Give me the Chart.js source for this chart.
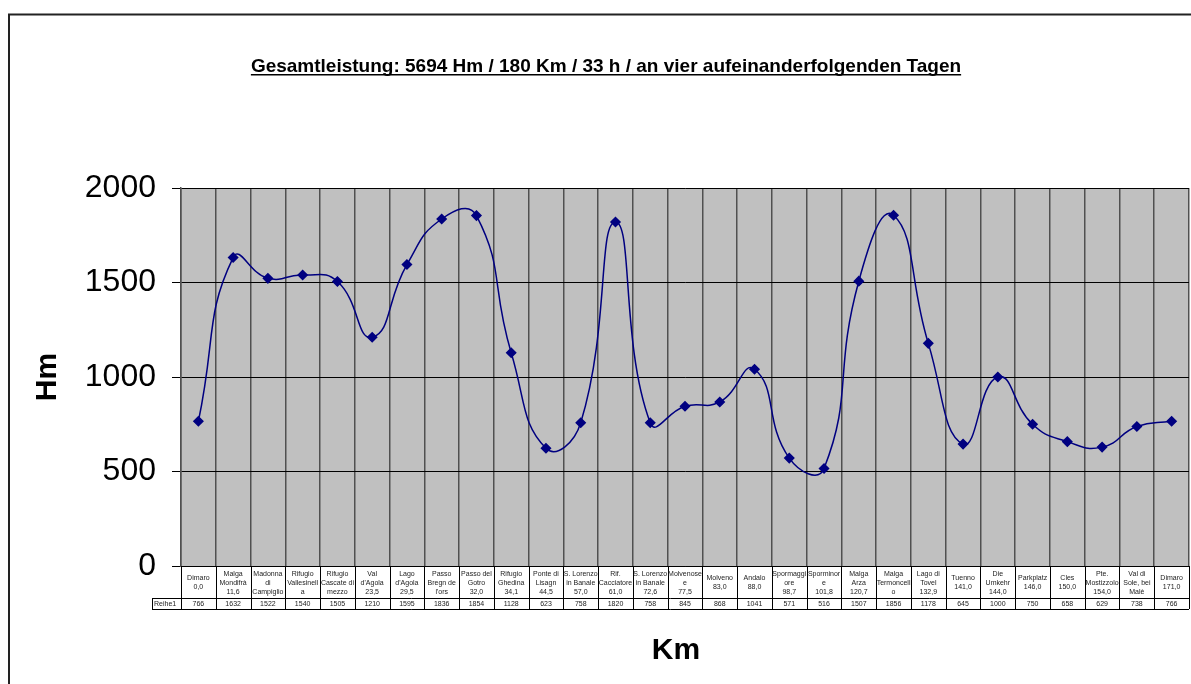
<!DOCTYPE html>
<html>
<head>
<meta charset="utf-8">
<script src="https://cdn.jsdelivr.net/npm/chart.js@4/dist/chart.umd.min.js"></script>
<style>
  html, body { margin: 0; padding: 0; background: #fff; }
  #wrap { width: 1191px; height: 684px; position: relative; }
</style>
</head>
<body>
<div id="wrap"><canvas id="chart" width="1191" height="684"></canvas></div>
<script>
// Etappen (Ort + Km), wie in der Datentabelle umgebrochen
const stations = [
    ['Dimaro', '0,0'],
    ['Malga', 'Mondifrà', '11,6'],
    ['Madonna', 'di', 'Campiglio'],
    ['Rifugio', 'Vallesinell', 'a'],
    ['Rifugio', 'Cascate di', 'mezzo'],
    ['Val', "d'Agola", '23,5'],
    ['Lago', "d'Agola", '29,5'],
    ['Passo', 'Bregn de', "l'ors"],
    ['Passo del', 'Gotro', '32,0'],
    ['Rifugio', 'Ghedina', '34,1'],
    ['Ponte di', 'Lisagn', '44,5'],
    ['S. Lorenzo', 'in Banale', '57,0'],
    ['Rif.', 'Cacciatore', '61,0'],
    ['S. Lorenzo', 'in Banale', '72,6'],
    ['Molvenose', 'e', '77,5'],
    ['Molveno', '83,0'],
    ['Andalo', '88,0'],
    ['Spormaggi', 'ore', '98,7'],
    ['Sporminor', 'e', '101,8'],
    ['Malga', 'Arza', '120,7'],
    ['Malga', 'Termoncell', 'o'],
    ['Lago di', 'Tovel', '132,9'],
    ['Tuenno', '141,0'],
    ['Die', 'Umkehr', '144,0'],
    ['Parkplatz', '146,0'],
    ['Cles', '150,0'],
    ['Pte.', 'Mostizzolo', '154,0'],
    ['Val di', 'Sole, bei', 'Malè'],
    ['Dimaro', '171,0']
];

// Höhe in Hm
const heights = [766, 1632, 1522, 1540, 1505, 1210, 1595, 1836, 1854, 1128, 623, 758, 1820, 758, 845,
                 868, 1041, 571, 516, 1507, 1856, 1178, 645, 1000, 750, 658, 629, 738, 766];

const seriesName = 'Reihe1';
const yTicks = [0, 500, 1000, 1500, 2000];

const titleText = 'Gesamtleistung: 5694 Hm / 180 Km / 33 h / an vier aufeinanderfolgenden Tagen';
const yTitle = 'Hm';
const xTitle = 'Km';

const FONT = '"Liberation Sans", Arial, sans-serif';
const NAVY = '#000080';

// grauer Hintergrund, Rahmen, Titel und Datentabelle
const excelLook = {
    id: 'excelLook',
    beforeDraw(chart) {
        const { ctx, chartArea: a } = chart;
        ctx.save();
        ctx.fillStyle = '#c0c0c0';
        ctx.fillRect(a.left, a.top, a.right - a.left, a.bottom - a.top);
        ctx.restore();
    },
    afterDraw(chart) {
        const { ctx, chartArea: a } = chart;
        const xs = chart.scales.x;
        ctx.save();

        // äußerer Rahmen
        ctx.strokeStyle = '#222';
        ctx.lineWidth = 2;
        ctx.beginPath();
        ctx.moveTo(9, 684);
        ctx.lineTo(9, 14.5);
        ctx.lineTo(1191, 14.5);
        ctx.stroke();

        // Titel, unterstrichen
        ctx.fillStyle = '#000';
        ctx.font = 'bold 19px ' + FONT;
        ctx.textAlign = 'center';
        ctx.textBaseline = 'alphabetic';
        const tx = 606, ty = 72;
        ctx.fillText(titleText, tx, ty);
        const tw = ctx.measureText(titleText).width;
        ctx.fillRect(tx - tw / 2, ty + 2, tw, 1.5);

        // Achsentitel
        ctx.font = 'bold 30px ' + FONT;
        ctx.textBaseline = 'middle';
        ctx.fillText(xTitle, 676, 651);
        ctx.save();
        ctx.translate(48, 377);
        ctx.rotate(-Math.PI / 2);
        ctx.fillText(yTitle, 0, 0);
        ctx.restore();

        // Datentabelle
        const half = (xs.getPixelForValue(1) - xs.getPixelForValue(0)) / 2;
        const rowTop = a.bottom, rowMid = a.bottom + 32, rowBot = a.bottom + 43;
        const headLeft = 152;
        ctx.strokeStyle = '#000';
        ctx.lineWidth = 1;
        ctx.beginPath();
        ctx.moveTo(headLeft, rowMid + 0.5); ctx.lineTo(a.right, rowMid + 0.5);
        ctx.moveTo(headLeft, rowBot + 0.5); ctx.lineTo(a.right, rowBot + 0.5);
        ctx.moveTo(headLeft + 0.5, rowMid); ctx.lineTo(headLeft + 0.5, rowBot);
        for (let i = 0; i <= stations.length; i++) {
            const bx = Math.round(xs.getPixelForValue(0) - half + i * 2 * half) + 0.5;
            ctx.moveTo(bx, rowTop); ctx.lineTo(bx, rowBot);
        }
        ctx.stroke();

        ctx.fillStyle = '#222';
        ctx.font = '7px ' + FONT;
        ctx.textAlign = 'center';
        ctx.textBaseline = 'middle';
        const lh = 9;
        stations.forEach((lines, i) => {
            const cx = xs.getPixelForValue(i);
            const cy = (rowTop + rowMid) / 2 + 1;
            lines.forEach((t, j) => {
                ctx.fillText(t, cx, cy + (j - (lines.length - 1) / 2) * lh);
            });
            ctx.fillText(String(heights[i]), cx, (rowMid + rowBot) / 2 + 1);
        });
        ctx.textAlign = 'left';
        ctx.fillText(seriesName, headLeft + 2, (rowMid + rowBot) / 2 + 1);

        ctx.restore();
    }
};

new Chart(document.getElementById('chart'), {
    type: 'line',
    data: {
        labels: stations.map(s => s.join(' ')),
        datasets: [{
            label: seriesName,
            data: heights,
            borderColor: NAVY,
            backgroundColor: NAVY,
            borderWidth: 1.5,
            tension: 0.5,
            pointStyle: 'rectRot',
            pointRadius: 4.5,
            pointBackgroundColor: NAVY,
            pointBorderColor: NAVY,
            fill: false
        }]
    },
    options: {
        responsive: false,
        animation: false,
        layout: { autoPadding: false, padding: { left: 0, top: 188, right: 2, bottom: 0 } },
        plugins: {
            legend: { display: false },
            title: { display: false },
            tooltip: { enabled: false }
        },
        scales: {
            x: {
                type: 'category',
                offset: true,
                grid: {
                    offset: true,
                    color: '#505050',
                    lineWidth: 1.5,
                    drawTicks: false
                },
                border: { display: true, color: '#000' },
                ticks: { display: false },
                afterFit: (scale) => { scale.height = 118; }
            },
            y: {
                min: 0,
                max: 2000,
                afterBuildTicks: (scale) => { scale.ticks = yTicks.map(v => ({ value: v })); },
                grid: {
                    color: '#000',
                    lineWidth: 1,
                    tickLength: 9
                },
                border: { display: true, color: '#505050', width: 1.5 },
                ticks: {
                    padding: 16,
                    color: '#000',
                    font: { family: FONT, size: 32 },
                    callback: (v) => String(v)
                },
                afterFit: (scale) => { scale.width = 181; }
            }
        }
    },
    plugins: [excelLook]
});
</script>
</body>
</html>
